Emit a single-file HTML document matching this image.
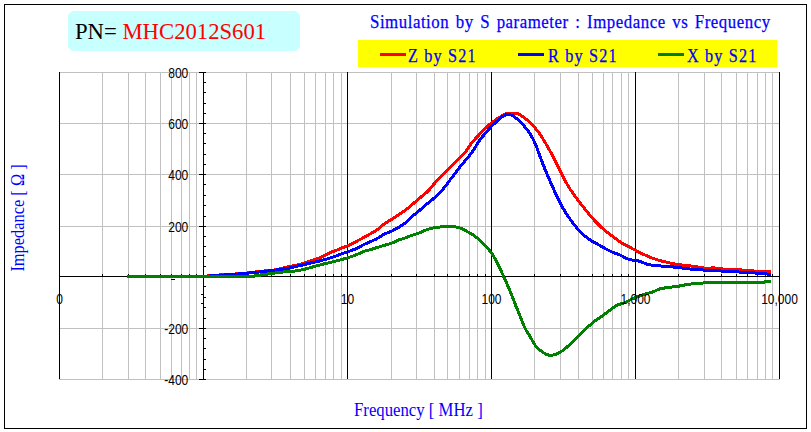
<!DOCTYPE html>
<html><head><meta charset="utf-8"><style>
html,body{margin:0;padding:0;background:#fff;}
body{width:811px;height:432px;position:relative;overflow:hidden;}
.frame{position:absolute;left:4px;top:4px;width:801px;height:423px;border:1px solid #000;}
.pn{position:absolute;left:68px;top:11px;width:232px;height:40px;background:#c8ffff;
 clip-path:polygon(4px 0,228px 0,232px 4px,232px 36px,228px 40px,4px 40px,0 36px,0 4px);}
.pntext{position:absolute;left:75.3px;top:16px;font:24px "Liberation Serif",serif;transform:scaleX(0.945);transform-origin:0 0;white-space:nowrap;line-height:30px;}
.title{position:absolute;left:370px;top:11px;font:18.7px "Liberation Serif",serif;color:#0000ff;white-space:nowrap;line-height:22px;-webkit-text-stroke:0.25px #0000ff;transform:scaleX(0.9);transform-origin:0 0;letter-spacing:0.6px;word-spacing:2px;}
.legend{position:absolute;left:358px;top:40px;width:419px;height:27px;background:#ffff00;}
.lg{position:absolute;top:45px;font:18px "Liberation Serif",serif;letter-spacing:1.3px;color:#0000ff;white-space:nowrap;line-height:22px;-webkit-text-stroke:0.25px #0000ff;transform:scaleX(0.9);transform-origin:0 0;}
.ll{position:absolute;top:53px;height:3px;width:26px;}
svg{position:absolute;left:0;top:0;}
.yl{position:absolute;left:128.3px;width:60px;height:14px;text-align:right;font:12px "Liberation Sans",sans-serif;line-height:14px;color:#000;transform:scaleY(1.16);}
.xl{position:absolute;top:292.15px;width:80px;height:14px;text-align:center;font:12px "Liberation Sans",sans-serif;line-height:14px;color:#000;transform:scaleY(1.16);}
.ylab{position:absolute;left:18px;top:218px;transform:translate(-50%,-50%) rotate(-90deg) scaleX(0.91);font:18px "Liberation Serif",serif;color:#0000ff;white-space:nowrap;line-height:20px;}
.xlab{position:absolute;left:353.5px;top:399.5px;font:18px "Liberation Serif",serif;transform:scaleX(0.93);transform-origin:0 0;color:#0000ff;white-space:nowrap;line-height:20px;}
</style></head><body>
<div class="frame"></div>
<div class="pn"></div>
<div class="pntext"><span style="color:#000">PN= </span><span style="color:#ff0000">MHC2012S601</span></div>
<div class="title">Simulation by S parameter : Impedance vs Frequency</div>
<div class="legend"></div>
<div class="ll" style="left:380px;background:#ff0000"></div><div class="lg" style="left:408px">Z by S21</div>
<div class="ll" style="left:518px;background:#0000ff"></div><div class="lg" style="left:548px">R by S21</div>
<div class="ll" style="left:658px;background:#008000"></div><div class="lg" style="left:687px">X by S21</div>
<svg width="811" height="432" viewBox="0 0 811 432">
<g shape-rendering="crispEdges">
<line x1="102.5" y1="72" x2="102.5" y2="379" stroke="#c0c0c0"/>
<line x1="128.5" y1="72" x2="128.5" y2="379" stroke="#c0c0c0"/>
<line x1="145.5" y1="72" x2="145.5" y2="379" stroke="#c0c0c0"/>
<line x1="160.5" y1="72" x2="160.5" y2="379" stroke="#c0c0c0"/>
<line x1="171.5" y1="72" x2="171.5" y2="379" stroke="#c0c0c0"/>
<line x1="181.5" y1="72" x2="181.5" y2="379" stroke="#c0c0c0"/>
<line x1="189.5" y1="72" x2="189.5" y2="379" stroke="#c0c0c0"/>
<line x1="196.5" y1="72" x2="196.5" y2="379" stroke="#c0c0c0"/>
<line x1="246.5" y1="72" x2="246.5" y2="379" stroke="#c0c0c0"/>
<line x1="271.5" y1="72" x2="271.5" y2="379" stroke="#c0c0c0"/>
<line x1="290.5" y1="72" x2="290.5" y2="379" stroke="#c0c0c0"/>
<line x1="304.5" y1="72" x2="304.5" y2="379" stroke="#c0c0c0"/>
<line x1="315.5" y1="72" x2="315.5" y2="379" stroke="#c0c0c0"/>
<line x1="325.5" y1="72" x2="325.5" y2="379" stroke="#c0c0c0"/>
<line x1="333.5" y1="72" x2="333.5" y2="379" stroke="#c0c0c0"/>
<line x1="341.5" y1="72" x2="341.5" y2="379" stroke="#c0c0c0"/>
<line x1="391.5" y1="72" x2="391.5" y2="379" stroke="#c0c0c0"/>
<line x1="416.5" y1="72" x2="416.5" y2="379" stroke="#c0c0c0"/>
<line x1="434.5" y1="72" x2="434.5" y2="379" stroke="#c0c0c0"/>
<line x1="447.5" y1="72" x2="447.5" y2="379" stroke="#c0c0c0"/>
<line x1="459.5" y1="72" x2="459.5" y2="379" stroke="#c0c0c0"/>
<line x1="469.5" y1="72" x2="469.5" y2="379" stroke="#c0c0c0"/>
<line x1="477.5" y1="72" x2="477.5" y2="379" stroke="#c0c0c0"/>
<line x1="485.5" y1="72" x2="485.5" y2="379" stroke="#c0c0c0"/>
<line x1="534.5" y1="72" x2="534.5" y2="379" stroke="#c0c0c0"/>
<line x1="560.5" y1="72" x2="560.5" y2="379" stroke="#c0c0c0"/>
<line x1="578.5" y1="72" x2="578.5" y2="379" stroke="#c0c0c0"/>
<line x1="592.5" y1="72" x2="592.5" y2="379" stroke="#c0c0c0"/>
<line x1="603.5" y1="72" x2="603.5" y2="379" stroke="#c0c0c0"/>
<line x1="612.5" y1="72" x2="612.5" y2="379" stroke="#c0c0c0"/>
<line x1="621.5" y1="72" x2="621.5" y2="379" stroke="#c0c0c0"/>
<line x1="628.5" y1="72" x2="628.5" y2="379" stroke="#c0c0c0"/>
<line x1="678.5" y1="72" x2="678.5" y2="379" stroke="#c0c0c0"/>
<line x1="704.5" y1="72" x2="704.5" y2="379" stroke="#c0c0c0"/>
<line x1="721.5" y1="72" x2="721.5" y2="379" stroke="#c0c0c0"/>
<line x1="736.5" y1="72" x2="736.5" y2="379" stroke="#c0c0c0"/>
<line x1="747.5" y1="72" x2="747.5" y2="379" stroke="#c0c0c0"/>
<line x1="757.5" y1="72" x2="757.5" y2="379" stroke="#c0c0c0"/>
<line x1="765.5" y1="72" x2="765.5" y2="379" stroke="#c0c0c0"/>
<line x1="772.5" y1="72" x2="772.5" y2="379" stroke="#c0c0c0"/>
<line x1="59" y1="72.5" x2="780" y2="72.5" stroke="#c0c0c0"/>
<line x1="59" y1="123.5" x2="780" y2="123.5" stroke="#c0c0c0"/>
<line x1="59" y1="174.5" x2="780" y2="174.5" stroke="#c0c0c0"/>
<line x1="59" y1="226.5" x2="780" y2="226.5" stroke="#c0c0c0"/>
<line x1="59" y1="328.5" x2="780" y2="328.5" stroke="#c0c0c0"/>
<line x1="59" y1="379.5" x2="780" y2="379.5" stroke="#c0c0c0"/>
<line x1="59.5" y1="72" x2="59.5" y2="379" stroke="#000"/>
<line x1="347.5" y1="72" x2="347.5" y2="379" stroke="#000"/>
<line x1="491.5" y1="72" x2="491.5" y2="379" stroke="#000"/>
<line x1="635.5" y1="72" x2="635.5" y2="379" stroke="#000"/>
<line x1="779.5" y1="72" x2="779.5" y2="379" stroke="#000"/>
<line x1="59" y1="276.5" x2="780" y2="276.5" stroke="#000"/>
<line x1="102.5" y1="274" x2="102.5" y2="276" stroke="#000"/>
<line x1="128.5" y1="274" x2="128.5" y2="276" stroke="#000"/>
<line x1="145.5" y1="274" x2="145.5" y2="276" stroke="#000"/>
<line x1="160.5" y1="274" x2="160.5" y2="276" stroke="#000"/>
<line x1="171.5" y1="274" x2="171.5" y2="276" stroke="#000"/>
<line x1="181.5" y1="274" x2="181.5" y2="276" stroke="#000"/>
<line x1="189.5" y1="274" x2="189.5" y2="276" stroke="#000"/>
<line x1="196.5" y1="274" x2="196.5" y2="276" stroke="#000"/>
<line x1="246.5" y1="274" x2="246.5" y2="276" stroke="#000"/>
<line x1="271.5" y1="274" x2="271.5" y2="276" stroke="#000"/>
<line x1="290.5" y1="274" x2="290.5" y2="276" stroke="#000"/>
<line x1="304.5" y1="274" x2="304.5" y2="276" stroke="#000"/>
<line x1="315.5" y1="274" x2="315.5" y2="276" stroke="#000"/>
<line x1="325.5" y1="274" x2="325.5" y2="276" stroke="#000"/>
<line x1="333.5" y1="274" x2="333.5" y2="276" stroke="#000"/>
<line x1="341.5" y1="274" x2="341.5" y2="276" stroke="#000"/>
<line x1="391.5" y1="274" x2="391.5" y2="276" stroke="#000"/>
<line x1="416.5" y1="274" x2="416.5" y2="276" stroke="#000"/>
<line x1="434.5" y1="274" x2="434.5" y2="276" stroke="#000"/>
<line x1="447.5" y1="274" x2="447.5" y2="276" stroke="#000"/>
<line x1="459.5" y1="274" x2="459.5" y2="276" stroke="#000"/>
<line x1="469.5" y1="274" x2="469.5" y2="276" stroke="#000"/>
<line x1="477.5" y1="274" x2="477.5" y2="276" stroke="#000"/>
<line x1="485.5" y1="274" x2="485.5" y2="276" stroke="#000"/>
<line x1="534.5" y1="274" x2="534.5" y2="276" stroke="#000"/>
<line x1="560.5" y1="274" x2="560.5" y2="276" stroke="#000"/>
<line x1="578.5" y1="274" x2="578.5" y2="276" stroke="#000"/>
<line x1="592.5" y1="274" x2="592.5" y2="276" stroke="#000"/>
<line x1="603.5" y1="274" x2="603.5" y2="276" stroke="#000"/>
<line x1="612.5" y1="274" x2="612.5" y2="276" stroke="#000"/>
<line x1="621.5" y1="274" x2="621.5" y2="276" stroke="#000"/>
<line x1="628.5" y1="274" x2="628.5" y2="276" stroke="#000"/>
<line x1="678.5" y1="274" x2="678.5" y2="276" stroke="#000"/>
<line x1="704.5" y1="274" x2="704.5" y2="276" stroke="#000"/>
<line x1="721.5" y1="274" x2="721.5" y2="276" stroke="#000"/>
<line x1="736.5" y1="274" x2="736.5" y2="276" stroke="#000"/>
<line x1="747.5" y1="274" x2="747.5" y2="276" stroke="#000"/>
<line x1="757.5" y1="274" x2="757.5" y2="276" stroke="#000"/>
<line x1="765.5" y1="274" x2="765.5" y2="276" stroke="#000"/>
<line x1="772.5" y1="274" x2="772.5" y2="276" stroke="#000"/>
<line x1="203.5" y1="72" x2="203.5" y2="380" stroke="#000"/>
<line x1="199" y1="72.5" x2="206" y2="72.5" stroke="#000"/>
<line x1="199" y1="123.5" x2="206" y2="123.5" stroke="#000"/>
<line x1="199" y1="174.5" x2="206" y2="174.5" stroke="#000"/>
<line x1="199" y1="226.5" x2="206" y2="226.5" stroke="#000"/>
<line x1="199" y1="276.5" x2="206" y2="276.5" stroke="#000"/>
<line x1="199" y1="328.5" x2="206" y2="328.5" stroke="#000"/>
<line x1="199" y1="379.5" x2="206" y2="379.5" stroke="#000"/>
<line x1="203" y1="82.5" x2="206" y2="82.5" stroke="#000"/>
<line x1="203" y1="92.5" x2="206" y2="92.5" stroke="#000"/>
<line x1="203" y1="103.5" x2="206" y2="103.5" stroke="#000"/>
<line x1="203" y1="113.5" x2="206" y2="113.5" stroke="#000"/>
<line x1="203" y1="133.5" x2="206" y2="133.5" stroke="#000"/>
<line x1="203" y1="143.5" x2="206" y2="143.5" stroke="#000"/>
<line x1="203" y1="154.5" x2="206" y2="154.5" stroke="#000"/>
<line x1="203" y1="164.5" x2="206" y2="164.5" stroke="#000"/>
<line x1="203" y1="184.5" x2="206" y2="184.5" stroke="#000"/>
<line x1="203" y1="195.5" x2="206" y2="195.5" stroke="#000"/>
<line x1="203" y1="205.5" x2="206" y2="205.5" stroke="#000"/>
<line x1="203" y1="216.5" x2="206" y2="216.5" stroke="#000"/>
<line x1="203" y1="236.5" x2="206" y2="236.5" stroke="#000"/>
<line x1="203" y1="246.5" x2="206" y2="246.5" stroke="#000"/>
<line x1="203" y1="256.5" x2="206" y2="256.5" stroke="#000"/>
<line x1="203" y1="266.5" x2="206" y2="266.5" stroke="#000"/>
<line x1="203" y1="286.5" x2="206" y2="286.5" stroke="#000"/>
<line x1="203" y1="297.5" x2="206" y2="297.5" stroke="#000"/>
<line x1="203" y1="307.5" x2="206" y2="307.5" stroke="#000"/>
<line x1="203" y1="318.5" x2="206" y2="318.5" stroke="#000"/>
<line x1="203" y1="338.5" x2="206" y2="338.5" stroke="#000"/>
<line x1="203" y1="348.5" x2="206" y2="348.5" stroke="#000"/>
<line x1="203" y1="359.5" x2="206" y2="359.5" stroke="#000"/>
<line x1="203" y1="369.5" x2="206" y2="369.5" stroke="#000"/>
<line x1="171" y1="279.5" x2="175" y2="279.5" stroke="#000"/>
<line x1="201" y1="294.5" x2="203" y2="294.5" stroke="#000"/>
<line x1="201" y1="303.5" x2="203" y2="303.5" stroke="#000"/>
</g>
<path d="M203.0,276.41 L204.0,276.35 L205.0,276.26 L206.0,276.16 L207.0,276.05 L208.0,275.94 L209.0,275.84 L210.0,275.73 L211.0,275.63 L212.0,275.54 L213.0,275.45 L214.0,275.38 L215.0,275.31 L216.0,275.24 L217.0,275.18 L218.0,275.11 L219.0,275.05 L220.0,274.98 L221.0,274.92 L222.0,274.85 L223.0,274.79 L224.0,274.73 L225.0,274.66 L226.0,274.60 L227.0,274.53 L228.0,274.47 L229.0,274.40 L230.0,274.34 L231.0,274.27 L232.0,274.21 L233.0,274.15 L234.0,274.08 L235.0,274.02 L236.0,273.95 L237.0,273.89 L238.0,273.82 L239.0,273.76 L240.0,273.69 L241.0,273.62 L242.0,273.55 L243.0,273.46 L244.0,273.37 L245.0,273.27 L246.0,273.16 L247.0,273.05 L248.0,272.94 L249.0,272.83 L250.0,272.71 L251.0,272.59 L252.0,272.46 L253.0,272.31 L254.0,272.16 L255.0,272.00 L256.0,271.85 L257.0,271.70 L258.0,271.57 L259.0,271.46 L260.0,271.36 L261.0,271.27 L262.0,271.19 L263.0,271.12 L264.0,271.04 L265.0,270.96 L266.0,270.88 L267.0,270.81 L268.0,270.73 L269.0,270.64 L270.0,270.54 L271.0,270.43 L272.0,270.30 L273.0,270.15 L274.0,269.99 L275.0,269.82 L276.0,269.63 L277.0,269.43 L278.0,269.22 L279.0,268.99 L280.0,268.75 L281.0,268.50 L282.0,268.25 L283.0,268.01 L284.0,267.77 L285.0,267.54 L286.0,267.32 L287.0,267.11 L288.0,266.90 L289.0,266.70 L290.0,266.50 L291.0,266.30 L292.0,266.10 L293.0,265.90 L294.0,265.70 L295.0,265.50 L296.0,265.30 L297.0,265.09 L298.0,264.87 L299.0,264.62 L300.0,264.34 L301.0,264.02 L302.0,263.67 L303.0,263.31 L304.0,262.94 L305.0,262.59 L306.0,262.26 L307.0,261.95 L308.0,261.65 L309.0,261.36 L310.0,261.06 L311.0,260.77 L312.0,260.46 L313.0,260.15 L314.0,259.82 L315.0,259.49 L316.0,259.15 L317.0,258.80 L318.0,258.42 L319.0,258.03 L320.0,257.63 L321.0,257.20 L322.0,256.77 L323.0,256.31 L324.0,255.82 L325.0,255.28 L326.0,254.71 L327.0,254.13 L328.0,253.59 L329.0,253.09 L330.0,252.66 L331.0,252.27 L332.0,251.90 L333.0,251.54 L334.0,251.17 L335.0,250.79 L336.0,250.40 L337.0,249.99 L338.0,249.57 L339.0,249.14 L340.0,248.72 L341.0,248.30 L342.0,247.89 L343.0,247.49 L344.0,247.11 L345.0,246.74 L346.0,246.39 L347.0,246.03 L348.0,245.65 L349.0,245.26 L350.0,244.83 L351.0,244.37 L352.0,243.86 L353.0,243.33 L354.0,242.79 L355.0,242.24 L356.0,241.69 L357.0,241.14 L358.0,240.60 L359.0,240.06 L360.0,239.52 L361.0,238.98 L362.0,238.44 L363.0,237.90 L364.0,237.36 L365.0,236.81 L366.0,236.26 L367.0,235.70 L368.0,235.15 L369.0,234.59 L370.0,234.02 L371.0,233.45 L372.0,232.87 L373.0,232.29 L374.0,231.69 L375.0,231.09 L376.0,230.46 L377.0,229.80 L378.0,229.08 L379.0,228.30 L380.0,227.46 L381.0,226.59 L382.0,225.71 L383.0,224.87 L384.0,224.09 L385.0,223.37 L386.0,222.72 L387.0,222.12 L388.0,221.53 L389.0,220.95 L390.0,220.37 L391.0,219.77 L392.0,219.15 L393.0,218.52 L394.0,217.87 L395.0,217.21 L396.0,216.55 L397.0,215.89 L398.0,215.22 L399.0,214.54 L400.0,213.86 L401.0,213.18 L402.0,212.49 L403.0,211.80 L404.0,211.10 L405.0,210.38 L406.0,209.64 L407.0,208.87 L408.0,208.07 L409.0,207.26 L410.0,206.43 L411.0,205.59 L412.0,204.75 L413.0,203.91 L414.0,203.05 L415.0,202.18 L416.0,201.31 L417.0,200.44 L418.0,199.57 L419.0,198.70 L420.0,197.84 L421.0,197.00 L422.0,196.17 L423.0,195.36 L424.0,194.55 L425.0,193.73 L426.0,192.89 L427.0,192.00 L428.0,191.03 L429.0,189.97 L430.0,188.83 L431.0,187.63 L432.0,186.40 L433.0,185.18 L434.0,183.99 L435.0,182.84 L436.0,181.72 L437.0,180.63 L438.0,179.55 L439.0,178.50 L440.0,177.45 L441.0,176.43 L442.0,175.41 L443.0,174.40 L444.0,173.40 L445.0,172.40 L446.0,171.40 L447.0,170.40 L448.0,169.40 L449.0,168.40 L450.0,167.40 L451.0,166.40 L452.0,165.40 L453.0,164.40 L454.0,163.40 L455.0,162.40 L456.0,161.40 L457.0,160.40 L458.0,159.40 L459.0,158.40 L460.0,157.41 L461.0,156.43 L462.0,155.46 L463.0,154.49 L464.0,153.48 L465.0,152.40 L466.0,151.20 L467.0,149.86 L468.0,148.40 L469.0,146.89 L470.0,145.38 L471.0,143.93 L472.0,142.58 L473.0,141.35 L474.0,140.20 L475.0,139.12 L476.0,138.06 L477.0,137.01 L478.0,135.96 L479.0,134.91 L480.0,133.86 L481.0,132.81 L482.0,131.77 L483.0,130.74 L484.0,129.72 L485.0,128.72 L486.0,127.74 L487.0,126.80 L488.0,125.89 L489.0,125.04 L490.0,124.22 L491.0,123.43 L492.0,122.66 L493.0,121.88 L494.0,121.12 L495.0,120.36 L496.0,119.64 L497.0,118.96 L498.0,118.34 L499.0,117.76 L500.0,117.17 L501.0,116.57 L502.0,115.94 L503.0,115.31 L504.0,114.73 L505.0,114.23 L506.0,113.85 L507.0,113.57 L508.0,113.37 L509.0,113.25 L510.0,113.17 L511.0,113.13 L512.0,113.11 L513.0,113.11 L514.0,113.13 L515.0,113.19 L516.0,113.33 L517.0,113.56 L518.0,113.91 L519.0,114.38 L520.0,114.93 L521.0,115.53 L522.0,116.18 L523.0,116.84 L524.0,117.53 L525.0,118.26 L526.0,119.02 L527.0,119.82 L528.0,120.66 L529.0,121.53 L530.0,122.44 L531.0,123.41 L532.0,124.43 L533.0,125.51 L534.0,126.64 L535.0,127.82 L536.0,129.05 L537.0,130.31 L538.0,131.62 L539.0,132.98 L540.0,134.39 L541.0,135.86 L542.0,137.37 L543.0,138.94 L544.0,140.56 L545.0,142.22 L546.0,143.93 L547.0,145.68 L548.0,147.45 L549.0,149.23 L550.0,151.04 L551.0,152.87 L552.0,154.71 L553.0,156.57 L554.0,158.44 L555.0,160.34 L556.0,162.29 L557.0,164.32 L558.0,166.40 L559.0,168.53 L560.0,170.67 L561.0,172.76 L562.0,174.78 L563.0,176.73 L564.0,178.62 L565.0,180.47 L566.0,182.29 L567.0,184.07 L568.0,185.80 L569.0,187.45 L570.0,189.02 L571.0,190.51 L572.0,191.94 L573.0,193.35 L574.0,194.74 L575.0,196.13 L576.0,197.50 L577.0,198.87 L578.0,200.21 L579.0,201.53 L580.0,202.83 L581.0,204.12 L582.0,205.40 L583.0,206.67 L584.0,207.94 L585.0,209.20 L586.0,210.44 L587.0,211.67 L588.0,212.89 L589.0,214.09 L590.0,215.29 L591.0,216.47 L592.0,217.63 L593.0,218.76 L594.0,219.86 L595.0,220.93 L596.0,221.98 L597.0,223.01 L598.0,224.02 L599.0,225.01 L600.0,225.98 L601.0,226.93 L602.0,227.85 L603.0,228.76 L604.0,229.65 L605.0,230.52 L606.0,231.37 L607.0,232.17 L608.0,232.94 L609.0,233.68 L610.0,234.39 L611.0,235.10 L612.0,235.81 L613.0,236.54 L614.0,237.28 L615.0,238.05 L616.0,238.83 L617.0,239.62 L618.0,240.39 L619.0,241.15 L620.0,241.86 L621.0,242.52 L622.0,243.13 L623.0,243.68 L624.0,244.22 L625.0,244.73 L626.0,245.25 L627.0,245.77 L628.0,246.30 L629.0,246.83 L630.0,247.37 L631.0,247.91 L632.0,248.46 L633.0,248.99 L634.0,249.52 L635.0,250.04 L636.0,250.56 L637.0,251.07 L638.0,251.60 L639.0,252.13 L640.0,252.66 L641.0,253.18 L642.0,253.67 L643.0,254.12 L644.0,254.56 L645.0,254.98 L646.0,255.42 L647.0,255.88 L648.0,256.36 L649.0,256.83 L650.0,257.26 L651.0,257.65 L652.0,257.98 L653.0,258.30 L654.0,258.61 L655.0,258.94 L656.0,259.30 L657.0,259.65 L658.0,260.00 L659.0,260.33 L660.0,260.62 L661.0,260.87 L662.0,261.10 L663.0,261.32 L664.0,261.54 L665.0,261.77 L666.0,262.01 L667.0,262.25 L668.0,262.50 L669.0,262.74 L670.0,262.99 L671.0,263.23 L672.0,263.47 L673.0,263.70 L674.0,263.93 L675.0,264.15 L676.0,264.35 L677.0,264.51 L678.0,264.65 L679.0,264.76 L680.0,264.86 L681.0,264.96 L682.0,265.05 L683.0,265.14 L684.0,265.24 L685.0,265.33 L686.0,265.43 L687.0,265.53 L688.0,265.64 L689.0,265.76 L690.0,265.89 L691.0,266.03 L692.0,266.17 L693.0,266.31 L694.0,266.46 L695.0,266.60 L696.0,266.74 L697.0,266.89 L698.0,267.03 L699.0,267.17 L700.0,267.32 L701.0,267.47 L702.0,267.63 L703.0,267.79 L704.0,267.96 L705.0,268.11 L706.0,268.24 L707.0,268.31 L708.0,268.32 L709.0,268.26 L710.0,268.16 L711.0,268.04 L712.0,267.94 L713.0,267.88 L714.0,267.89 L715.0,267.96 L716.0,268.09 L717.0,268.24 L718.0,268.39 L719.0,268.55 L720.0,268.69 L721.0,268.82 L722.0,268.94 L723.0,269.05 L724.0,269.15 L725.0,269.24 L726.0,269.31 L727.0,269.36 L728.0,269.38 L729.0,269.39 L730.0,269.40 L731.0,269.40 L732.0,269.40 L733.0,269.41 L734.0,269.42 L735.0,269.45 L736.0,269.50 L737.0,269.56 L738.0,269.64 L739.0,269.73 L740.0,269.82 L741.0,269.91 L742.0,270.00 L743.0,270.09 L744.0,270.18 L745.0,270.28 L746.0,270.37 L747.0,270.46 L748.0,270.54 L749.0,270.63 L750.0,270.71 L751.0,270.79 L752.0,270.87 L753.0,270.94 L754.0,271.02 L755.0,271.09 L756.0,271.17 L757.0,271.24 L758.0,271.32 L759.0,271.40 L760.0,271.47 L761.0,271.54 L762.0,271.59 L763.0,271.64 L764.0,271.67 L765.0,271.69 L766.0,271.70 L767.0,271.70 L768.0,271.70 L769.0,271.70 L770.0,271.70 L770.8,271.70" fill="none" stroke="#ff0000" stroke-width="3" stroke-linejoin="round" shape-rendering="crispEdges"/>
<path d="M203.0,276.44 L204.0,276.39 L205.0,276.33 L206.0,276.26 L207.0,276.19 L208.0,276.12 L209.0,276.04 L210.0,275.96 L211.0,275.88 L212.0,275.81 L213.0,275.73 L214.0,275.66 L215.0,275.58 L216.0,275.51 L217.0,275.44 L218.0,275.38 L219.0,275.31 L220.0,275.25 L221.0,275.19 L222.0,275.13 L223.0,275.06 L224.0,275.00 L225.0,274.94 L226.0,274.87 L227.0,274.81 L228.0,274.75 L229.0,274.69 L230.0,274.62 L231.0,274.55 L232.0,274.48 L233.0,274.41 L234.0,274.33 L235.0,274.25 L236.0,274.17 L237.0,274.08 L238.0,274.00 L239.0,273.92 L240.0,273.83 L241.0,273.75 L242.0,273.66 L243.0,273.58 L244.0,273.49 L245.0,273.39 L246.0,273.30 L247.0,273.20 L248.0,273.10 L249.0,273.00 L250.0,272.90 L251.0,272.80 L252.0,272.70 L253.0,272.60 L254.0,272.50 L255.0,272.40 L256.0,272.30 L257.0,272.20 L258.0,272.10 L259.0,272.00 L260.0,271.90 L261.0,271.80 L262.0,271.70 L263.0,271.60 L264.0,271.49 L265.0,271.38 L266.0,271.28 L267.0,271.17 L268.0,271.06 L269.0,270.94 L270.0,270.83 L271.0,270.72 L272.0,270.60 L273.0,270.47 L274.0,270.34 L275.0,270.21 L276.0,270.07 L277.0,269.93 L278.0,269.79 L279.0,269.64 L280.0,269.50 L281.0,269.36 L282.0,269.21 L283.0,269.07 L284.0,268.93 L285.0,268.78 L286.0,268.62 L287.0,268.45 L288.0,268.28 L289.0,268.08 L290.0,267.88 L291.0,267.65 L292.0,267.40 L293.0,267.14 L294.0,266.86 L295.0,266.60 L296.0,266.35 L297.0,266.12 L298.0,265.91 L299.0,265.70 L300.0,265.50 L301.0,265.30 L302.0,265.10 L303.0,264.89 L304.0,264.67 L305.0,264.43 L306.0,264.18 L307.0,263.91 L308.0,263.64 L309.0,263.36 L310.0,263.09 L311.0,262.83 L312.0,262.59 L313.0,262.38 L314.0,262.18 L315.0,262.00 L316.0,261.82 L317.0,261.62 L318.0,261.41 L319.0,261.17 L320.0,260.91 L321.0,260.64 L322.0,260.36 L323.0,260.08 L324.0,259.80 L325.0,259.53 L326.0,259.27 L327.0,259.00 L328.0,258.71 L329.0,258.40 L330.0,258.08 L331.0,257.74 L332.0,257.39 L333.0,257.04 L334.0,256.68 L335.0,256.32 L336.0,255.96 L337.0,255.59 L338.0,255.21 L339.0,254.84 L340.0,254.46 L341.0,254.09 L342.0,253.73 L343.0,253.37 L344.0,253.03 L345.0,252.69 L346.0,252.36 L347.0,252.03 L348.0,251.70 L349.0,251.36 L350.0,251.02 L351.0,250.65 L352.0,250.28 L353.0,249.90 L354.0,249.50 L355.0,249.10 L356.0,248.68 L357.0,248.23 L358.0,247.75 L359.0,247.23 L360.0,246.68 L361.0,246.12 L362.0,245.57 L363.0,245.04 L364.0,244.54 L365.0,244.07 L366.0,243.63 L367.0,243.20 L368.0,242.77 L369.0,242.34 L370.0,241.91 L371.0,241.47 L372.0,241.01 L373.0,240.55 L374.0,240.08 L375.0,239.60 L376.0,239.11 L377.0,238.59 L378.0,238.03 L379.0,237.43 L380.0,236.79 L381.0,236.12 L382.0,235.47 L383.0,234.84 L384.0,234.28 L385.0,233.79 L386.0,233.36 L387.0,232.96 L388.0,232.59 L389.0,232.22 L390.0,231.83 L391.0,231.42 L392.0,230.96 L393.0,230.46 L394.0,229.94 L395.0,229.40 L396.0,228.84 L397.0,228.28 L398.0,227.70 L399.0,227.10 L400.0,226.49 L401.0,225.86 L402.0,225.21 L403.0,224.55 L404.0,223.87 L405.0,223.14 L406.0,222.33 L407.0,221.45 L408.0,220.50 L409.0,219.50 L410.0,218.49 L411.0,217.51 L412.0,216.60 L413.0,215.75 L414.0,214.95 L415.0,214.18 L416.0,213.42 L417.0,212.63 L418.0,211.80 L419.0,210.94 L420.0,210.06 L421.0,209.17 L422.0,208.27 L423.0,207.38 L424.0,206.50 L425.0,205.63 L426.0,204.78 L427.0,203.95 L428.0,203.12 L429.0,202.29 L430.0,201.47 L431.0,200.64 L432.0,199.82 L433.0,199.00 L434.0,198.17 L435.0,197.34 L436.0,196.49 L437.0,195.60 L438.0,194.65 L439.0,193.64 L440.0,192.58 L441.0,191.47 L442.0,190.33 L443.0,189.15 L444.0,187.93 L445.0,186.66 L446.0,185.36 L447.0,184.03 L448.0,182.69 L449.0,181.35 L450.0,180.01 L451.0,178.68 L452.0,177.36 L453.0,176.05 L454.0,174.74 L455.0,173.44 L456.0,172.14 L457.0,170.85 L458.0,169.55 L459.0,168.26 L460.0,166.97 L461.0,165.71 L462.0,164.46 L463.0,163.25 L464.0,162.06 L465.0,160.89 L466.0,159.74 L467.0,158.58 L468.0,157.41 L469.0,156.21 L470.0,154.97 L471.0,153.67 L472.0,152.27 L473.0,150.79 L474.0,149.24 L475.0,147.64 L476.0,146.02 L477.0,144.42 L478.0,142.86 L479.0,141.36 L480.0,139.94 L481.0,138.59 L482.0,137.30 L483.0,136.04 L484.0,134.80 L485.0,133.60 L486.0,132.41 L487.0,131.26 L488.0,130.12 L489.0,129.01 L490.0,127.92 L491.0,126.87 L492.0,125.84 L493.0,124.85 L494.0,123.87 L495.0,122.93 L496.0,122.00 L497.0,121.10 L498.0,120.23 L499.0,119.37 L500.0,118.54 L501.0,117.73 L502.0,116.95 L503.0,116.23 L504.0,115.60 L505.0,115.11 L506.0,114.77 L507.0,114.57 L508.0,114.50 L509.0,114.53 L510.0,114.68 L511.0,114.96 L512.0,115.38 L513.0,115.93 L514.0,116.58 L515.0,117.30 L516.0,118.08 L517.0,118.90 L518.0,119.76 L519.0,120.66 L520.0,121.61 L521.0,122.63 L522.0,123.69 L523.0,124.78 L524.0,125.91 L525.0,127.07 L526.0,128.25 L527.0,129.49 L528.0,130.79 L529.0,132.19 L530.0,133.71 L531.0,135.35 L532.0,137.10 L533.0,138.98 L534.0,140.99 L535.0,143.18 L536.0,145.55 L537.0,148.09 L538.0,150.76 L539.0,153.50 L540.0,156.24 L541.0,158.96 L542.0,161.62 L543.0,164.22 L544.0,166.78 L545.0,169.29 L546.0,171.74 L547.0,174.15 L548.0,176.49 L549.0,178.79 L550.0,181.06 L551.0,183.31 L552.0,185.54 L553.0,187.77 L554.0,189.99 L555.0,192.20 L556.0,194.40 L557.0,196.57 L558.0,198.69 L559.0,200.75 L560.0,202.71 L561.0,204.59 L562.0,206.41 L563.0,208.18 L564.0,209.89 L565.0,211.56 L566.0,213.15 L567.0,214.68 L568.0,216.15 L569.0,217.58 L570.0,218.99 L571.0,220.37 L572.0,221.73 L573.0,223.07 L574.0,224.38 L575.0,225.67 L576.0,226.94 L577.0,228.19 L578.0,229.38 L579.0,230.50 L580.0,231.55 L581.0,232.53 L582.0,233.46 L583.0,234.36 L584.0,235.24 L585.0,236.09 L586.0,236.90 L587.0,237.67 L588.0,238.41 L589.0,239.13 L590.0,239.82 L591.0,240.50 L592.0,241.15 L593.0,241.77 L594.0,242.34 L595.0,242.89 L596.0,243.42 L597.0,243.93 L598.0,244.45 L599.0,244.98 L600.0,245.53 L601.0,246.09 L602.0,246.66 L603.0,247.23 L604.0,247.81 L605.0,248.39 L606.0,248.95 L607.0,249.50 L608.0,250.03 L609.0,250.56 L610.0,251.06 L611.0,251.56 L612.0,252.04 L613.0,252.49 L614.0,252.89 L615.0,253.26 L616.0,253.60 L617.0,253.92 L618.0,254.25 L619.0,254.59 L620.0,254.98 L621.0,255.43 L622.0,255.94 L623.0,256.49 L624.0,257.07 L625.0,257.64 L626.0,258.18 L627.0,258.66 L628.0,259.05 L629.0,259.37 L630.0,259.62 L631.0,259.84 L632.0,260.03 L633.0,260.20 L634.0,260.35 L635.0,260.48 L636.0,260.61 L637.0,260.74 L638.0,260.92 L639.0,261.15 L640.0,261.43 L641.0,261.75 L642.0,262.12 L643.0,262.53 L644.0,262.97 L645.0,263.41 L646.0,263.84 L647.0,264.21 L648.0,264.50 L649.0,264.72 L650.0,264.88 L651.0,265.02 L652.0,265.14 L653.0,265.26 L654.0,265.38 L655.0,265.48 L656.0,265.58 L657.0,265.68 L658.0,265.76 L659.0,265.84 L660.0,265.92 L661.0,266.00 L662.0,266.07 L663.0,266.15 L664.0,266.23 L665.0,266.30 L666.0,266.38 L667.0,266.46 L668.0,266.54 L669.0,266.62 L670.0,266.71 L671.0,266.79 L672.0,266.88 L673.0,266.97 L674.0,267.05 L675.0,267.14 L676.0,267.24 L677.0,267.34 L678.0,267.45 L679.0,267.57 L680.0,267.71 L681.0,267.85 L682.0,268.00 L683.0,268.15 L684.0,268.29 L685.0,268.43 L686.0,268.56 L687.0,268.68 L688.0,268.79 L689.0,268.90 L690.0,269.00 L691.0,269.10 L692.0,269.20 L693.0,269.30 L694.0,269.39 L695.0,269.48 L696.0,269.57 L697.0,269.64 L698.0,269.71 L699.0,269.77 L700.0,269.83 L701.0,269.89 L702.0,269.95 L703.0,270.01 L704.0,270.07 L705.0,270.13 L706.0,270.19 L707.0,270.25 L708.0,270.31 L709.0,270.36 L710.0,270.42 L711.0,270.48 L712.0,270.54 L713.0,270.60 L714.0,270.65 L715.0,270.70 L716.0,270.76 L717.0,270.81 L718.0,270.86 L719.0,270.92 L720.0,270.97 L721.0,271.02 L722.0,271.07 L723.0,271.13 L724.0,271.18 L725.0,271.23 L726.0,271.28 L727.0,271.34 L728.0,271.39 L729.0,271.44 L730.0,271.50 L731.0,271.55 L732.0,271.60 L733.0,271.66 L734.0,271.72 L735.0,271.77 L736.0,271.83 L737.0,271.89 L738.0,271.95 L739.0,272.01 L740.0,272.06 L741.0,272.12 L742.0,272.18 L743.0,272.24 L744.0,272.29 L745.0,272.35 L746.0,272.41 L747.0,272.47 L748.0,272.53 L749.0,272.59 L750.0,272.65 L751.0,272.72 L752.0,272.78 L753.0,272.86 L754.0,272.93 L755.0,273.01 L756.0,273.08 L757.0,273.16 L758.0,273.24 L759.0,273.32 L760.0,273.39 L761.0,273.47 L762.0,273.55 L763.0,273.63 L764.0,273.72 L765.0,273.81 L766.0,273.91 L767.0,274.01 L768.0,274.10 L769.0,274.19 L770.0,274.27 L770.8,274.33" fill="none" stroke="#0000ff" stroke-width="3" stroke-linejoin="round" shape-rendering="crispEdges"/>
<path d="M127.0,276.50 L128.0,276.50 L129.0,276.50 L130.0,276.50 L131.0,276.50 L132.0,276.50 L133.0,276.50 L134.0,276.50 L135.0,276.50 L136.0,276.50 L137.0,276.50 L138.0,276.50 L139.0,276.50 L140.0,276.50 L141.0,276.50 L142.0,276.50 L143.0,276.50 L144.0,276.50 L145.0,276.50 L146.0,276.50 L147.0,276.50 L148.0,276.50 L149.0,276.50 L150.0,276.50 L151.0,276.50 L152.0,276.50 L153.0,276.50 L154.0,276.50 L155.0,276.50 L156.0,276.50 L157.0,276.50 L158.0,276.50 L159.0,276.50 L160.0,276.50 L161.0,276.50 L162.0,276.50 L163.0,276.50 L164.0,276.50 L165.0,276.50 L166.0,276.50 L167.0,276.50 L168.0,276.50 L169.0,276.50 L170.0,276.50 L171.0,276.50 L172.0,276.50 L173.0,276.50 L174.0,276.50 L175.0,276.50 L176.0,276.50 L177.0,276.50 L178.0,276.50 L179.0,276.50 L180.0,276.50 L181.0,276.50 L182.0,276.50 L183.0,276.50 L184.0,276.50 L185.0,276.50 L186.0,276.50 L187.0,276.50 L188.0,276.50 L189.0,276.50 L190.0,276.50 L191.0,276.50 L192.0,276.50 L193.0,276.50 L194.0,276.50 L195.0,276.50 L196.0,276.50 L197.0,276.50 L198.0,276.50 L199.0,276.50 L200.0,276.50 L201.0,276.50 L202.0,276.50 L203.0,276.50 L204.0,276.50 L205.0,276.50 L206.0,276.50 L207.0,276.50 L208.0,276.50 L209.0,276.50 L210.0,276.50 L211.0,276.50 L212.0,276.50 L213.0,276.50 L214.0,276.50 L215.0,276.50 L216.0,276.50 L217.0,276.50 L218.0,276.50 L219.0,276.50 L220.0,276.50 L221.0,276.50 L222.0,276.50 L223.0,276.50 L224.0,276.50 L225.0,276.50 L226.0,276.50 L227.0,276.50 L228.0,276.50 L229.0,276.50 L230.0,276.50 L231.0,276.50 L232.0,276.50 L233.0,276.50 L234.0,276.50 L235.0,276.50 L236.0,276.50 L237.0,276.50 L238.0,276.50 L239.0,276.50 L240.0,276.50 L241.0,276.50 L242.0,276.50 L243.0,276.50 L244.0,276.50 L245.0,276.50 L246.0,276.50 L247.0,276.50 L248.0,276.50 L249.0,276.49 L250.0,276.47 L251.0,276.42 L252.0,276.34 L253.0,276.22 L254.0,276.07 L255.0,275.90 L256.0,275.72 L257.0,275.54 L258.0,275.38 L259.0,275.22 L260.0,275.07 L261.0,274.92 L262.0,274.78 L263.0,274.63 L264.0,274.49 L265.0,274.35 L266.0,274.21 L267.0,274.07 L268.0,273.94 L269.0,273.80 L270.0,273.67 L271.0,273.53 L272.0,273.40 L273.0,273.27 L274.0,273.14 L275.0,273.01 L276.0,272.88 L277.0,272.75 L278.0,272.63 L279.0,272.50 L280.0,272.38 L281.0,272.26 L282.0,272.15 L283.0,272.04 L284.0,271.95 L285.0,271.87 L286.0,271.79 L287.0,271.71 L288.0,271.64 L289.0,271.56 L290.0,271.48 L291.0,271.39 L292.0,271.29 L293.0,271.20 L294.0,271.09 L295.0,270.99 L296.0,270.87 L297.0,270.73 L298.0,270.58 L299.0,270.41 L300.0,270.24 L301.0,270.05 L302.0,269.85 L303.0,269.65 L304.0,269.42 L305.0,269.17 L306.0,268.91 L307.0,268.63 L308.0,268.35 L309.0,268.06 L310.0,267.78 L311.0,267.49 L312.0,267.20 L313.0,266.92 L314.0,266.63 L315.0,266.35 L316.0,266.07 L317.0,265.79 L318.0,265.51 L319.0,265.23 L320.0,264.96 L321.0,264.69 L322.0,264.42 L323.0,264.15 L324.0,263.90 L325.0,263.65 L326.0,263.42 L327.0,263.19 L328.0,262.97 L329.0,262.74 L330.0,262.51 L331.0,262.27 L332.0,262.03 L333.0,261.78 L334.0,261.54 L335.0,261.29 L336.0,261.04 L337.0,260.79 L338.0,260.53 L339.0,260.27 L340.0,260.02 L341.0,259.75 L342.0,259.48 L343.0,259.21 L344.0,258.92 L345.0,258.62 L346.0,258.32 L347.0,258.01 L348.0,257.69 L349.0,257.37 L350.0,257.04 L351.0,256.70 L352.0,256.36 L353.0,256.01 L354.0,255.66 L355.0,255.30 L356.0,254.92 L357.0,254.52 L358.0,254.09 L359.0,253.63 L360.0,253.15 L361.0,252.67 L362.0,252.20 L363.0,251.77 L364.0,251.40 L365.0,251.08 L366.0,250.79 L367.0,250.53 L368.0,250.28 L369.0,250.02 L370.0,249.76 L371.0,249.48 L372.0,249.18 L373.0,248.88 L374.0,248.56 L375.0,248.24 L376.0,247.92 L377.0,247.60 L378.0,247.28 L379.0,246.97 L380.0,246.67 L381.0,246.37 L382.0,246.07 L383.0,245.77 L384.0,245.48 L385.0,245.19 L386.0,244.90 L387.0,244.61 L388.0,244.32 L389.0,244.03 L390.0,243.70 L391.0,243.35 L392.0,242.96 L393.0,242.54 L394.0,242.09 L395.0,241.64 L396.0,241.18 L397.0,240.73 L398.0,240.30 L399.0,239.91 L400.0,239.55 L401.0,239.23 L402.0,238.93 L403.0,238.65 L404.0,238.37 L405.0,238.07 L406.0,237.74 L407.0,237.35 L408.0,236.92 L409.0,236.46 L410.0,236.02 L411.0,235.61 L412.0,235.25 L413.0,234.93 L414.0,234.63 L415.0,234.34 L416.0,234.03 L417.0,233.72 L418.0,233.37 L419.0,232.99 L420.0,232.58 L421.0,232.15 L422.0,231.71 L423.0,231.27 L424.0,230.85 L425.0,230.45 L426.0,230.08 L427.0,229.72 L428.0,229.39 L429.0,229.08 L430.0,228.79 L431.0,228.51 L432.0,228.26 L433.0,228.03 L434.0,227.83 L435.0,227.66 L436.0,227.51 L437.0,227.39 L438.0,227.28 L439.0,227.17 L440.0,227.05 L441.0,226.91 L442.0,226.77 L443.0,226.62 L444.0,226.50 L445.0,226.40 L446.0,226.35 L447.0,226.32 L448.0,226.31 L449.0,226.30 L450.0,226.31 L451.0,226.33 L452.0,226.38 L453.0,226.47 L454.0,226.61 L455.0,226.79 L456.0,227.00 L457.0,227.23 L458.0,227.47 L459.0,227.74 L460.0,228.05 L461.0,228.41 L462.0,228.83 L463.0,229.29 L464.0,229.78 L465.0,230.30 L466.0,230.84 L467.0,231.39 L468.0,231.95 L469.0,232.53 L470.0,233.12 L471.0,233.71 L472.0,234.32 L473.0,234.95 L474.0,235.61 L475.0,236.32 L476.0,237.07 L477.0,237.86 L478.0,238.69 L479.0,239.53 L480.0,240.40 L481.0,241.29 L482.0,242.22 L483.0,243.20 L484.0,244.23 L485.0,245.29 L486.0,246.39 L487.0,247.50 L488.0,248.65 L489.0,249.84 L490.0,251.10 L491.0,252.44 L492.0,253.86 L493.0,255.38 L494.0,257.00 L495.0,258.72 L496.0,260.56 L497.0,262.49 L498.0,264.48 L499.0,266.54 L500.0,268.64 L501.0,270.77 L502.0,272.93 L503.0,275.10 L504.0,277.29 L505.0,279.48 L506.0,281.70 L507.0,283.95 L508.0,286.25 L509.0,288.60 L510.0,291.01 L511.0,293.48 L512.0,296.00 L513.0,298.57 L514.0,301.14 L515.0,303.70 L516.0,306.22 L517.0,308.71 L518.0,311.17 L519.0,313.63 L520.0,316.09 L521.0,318.56 L522.0,321.05 L523.0,323.52 L524.0,325.88 L525.0,328.05 L526.0,329.96 L527.0,331.65 L528.0,333.22 L529.0,334.78 L530.0,336.42 L531.0,338.16 L532.0,339.96 L533.0,341.75 L534.0,343.46 L535.0,345.02 L536.0,346.39 L537.0,347.55 L538.0,348.53 L539.0,349.38 L540.0,350.15 L541.0,350.89 L542.0,351.62 L543.0,352.33 L544.0,353.02 L545.0,353.66 L546.0,354.21 L547.0,354.64 L548.0,354.92 L549.0,355.08 L550.0,355.15 L551.0,355.15 L552.0,355.11 L553.0,355.02 L554.0,354.87 L555.0,354.63 L556.0,354.31 L557.0,353.91 L558.0,353.44 L559.0,352.90 L560.0,352.32 L561.0,351.69 L562.0,351.02 L563.0,350.31 L564.0,349.57 L565.0,348.79 L566.0,347.97 L567.0,347.08 L568.0,346.15 L569.0,345.17 L570.0,344.19 L571.0,343.21 L572.0,342.25 L573.0,341.31 L574.0,340.37 L575.0,339.44 L576.0,338.50 L577.0,337.56 L578.0,336.61 L579.0,335.65 L580.0,334.68 L581.0,333.69 L582.0,332.70 L583.0,331.70 L584.0,330.70 L585.0,329.71 L586.0,328.73 L587.0,327.77 L588.0,326.84 L589.0,325.94 L590.0,325.07 L591.0,324.21 L592.0,323.37 L593.0,322.54 L594.0,321.73 L595.0,320.95 L596.0,320.20 L597.0,319.48 L598.0,318.79 L599.0,318.12 L600.0,317.45 L601.0,316.78 L602.0,316.10 L603.0,315.40 L604.0,314.69 L605.0,313.96 L606.0,313.22 L607.0,312.47 L608.0,311.72 L609.0,310.97 L610.0,310.22 L611.0,309.48 L612.0,308.73 L613.0,307.98 L614.0,307.23 L615.0,306.51 L616.0,305.82 L617.0,305.21 L618.0,304.71 L619.0,304.35 L620.0,304.10 L621.0,303.89 L622.0,303.66 L623.0,303.36 L624.0,302.98 L625.0,302.54 L626.0,302.06 L627.0,301.56 L628.0,301.06 L629.0,300.55 L630.0,300.05 L631.0,299.55 L632.0,299.06 L633.0,298.58 L634.0,298.11 L635.0,297.67 L636.0,297.26 L637.0,296.87 L638.0,296.50 L639.0,296.13 L640.0,295.78 L641.0,295.42 L642.0,295.07 L643.0,294.73 L644.0,294.41 L645.0,294.09 L646.0,293.78 L647.0,293.49 L648.0,293.21 L649.0,292.94 L650.0,292.68 L651.0,292.41 L652.0,292.12 L653.0,291.79 L654.0,291.41 L655.0,290.98 L656.0,290.52 L657.0,290.05 L658.0,289.62 L659.0,289.24 L660.0,288.92 L661.0,288.66 L662.0,288.44 L663.0,288.26 L664.0,288.09 L665.0,287.93 L666.0,287.78 L667.0,287.64 L668.0,287.51 L669.0,287.38 L670.0,287.26 L671.0,287.15 L672.0,287.04 L673.0,286.92 L674.0,286.80 L675.0,286.67 L676.0,286.53 L677.0,286.38 L678.0,286.23 L679.0,286.07 L680.0,285.91 L681.0,285.73 L682.0,285.53 L683.0,285.32 L684.0,285.10 L685.0,284.89 L686.0,284.70 L687.0,284.54 L688.0,284.40 L689.0,284.27 L690.0,284.14 L691.0,284.01 L692.0,283.88 L693.0,283.74 L694.0,283.61 L695.0,283.47 L696.0,283.35 L697.0,283.25 L698.0,283.17 L699.0,283.11 L700.0,283.07 L701.0,283.04 L702.0,283.02 L703.0,283.00 L704.0,282.98 L705.0,282.97 L706.0,282.95 L707.0,282.93 L708.0,282.91 L709.0,282.89 L710.0,282.88 L711.0,282.86 L712.0,282.84 L713.0,282.82 L714.0,282.81 L715.0,282.79 L716.0,282.77 L717.0,282.75 L718.0,282.73 L719.0,282.71 L720.0,282.70 L721.0,282.67 L722.0,282.65 L723.0,282.60 L724.0,282.52 L725.0,282.40 L726.0,282.27 L727.0,282.16 L728.0,282.12 L729.0,282.17 L730.0,282.27 L731.0,282.39 L732.0,282.49 L733.0,282.55 L734.0,282.57 L735.0,282.58 L736.0,282.58 L737.0,282.58 L738.0,282.58 L739.0,282.57 L740.0,282.57 L741.0,282.56 L742.0,282.54 L743.0,282.50 L744.0,282.43 L745.0,282.34 L746.0,282.24 L747.0,282.19 L748.0,282.22 L749.0,282.31 L750.0,282.40 L751.0,282.46 L752.0,282.47 L753.0,282.41 L754.0,282.32 L755.0,282.23 L756.0,282.19 L757.0,282.22 L758.0,282.29 L759.0,282.36 L760.0,282.39 L761.0,282.39 L762.0,282.33 L763.0,282.24 L764.0,282.10 L765.0,281.94 L766.0,281.78 L767.0,281.65 L768.0,281.57 L769.0,281.52 L770.0,281.51 L770.8,281.50" fill="none" stroke="#008000" stroke-width="3" stroke-linejoin="round" shape-rendering="crispEdges"/>
</svg>
<div class="yl" style="top:66.15px">800</div>
<div class="yl" style="top:117.15px">600</div>
<div class="yl" style="top:168.15px">400</div>
<div class="yl" style="top:220.15px">200</div>
<div class="yl" style="top:322.15px">-200</div>
<div class="yl" style="top:373.15px">-400</div>
<div class="xl" style="left:19.5px">0</div>
<div class="xl" style="left:307.5px">10</div>
<div class="xl" style="left:451.5px">100</div>
<div class="xl" style="left:595.5px">1,000</div>
<div class="xl" style="left:739.5px">10,000</div>
<div class="ylab">Impedance [ Ω ]</div>
<div class="xlab">Frequency [ MHz ]</div>
</body></html>
